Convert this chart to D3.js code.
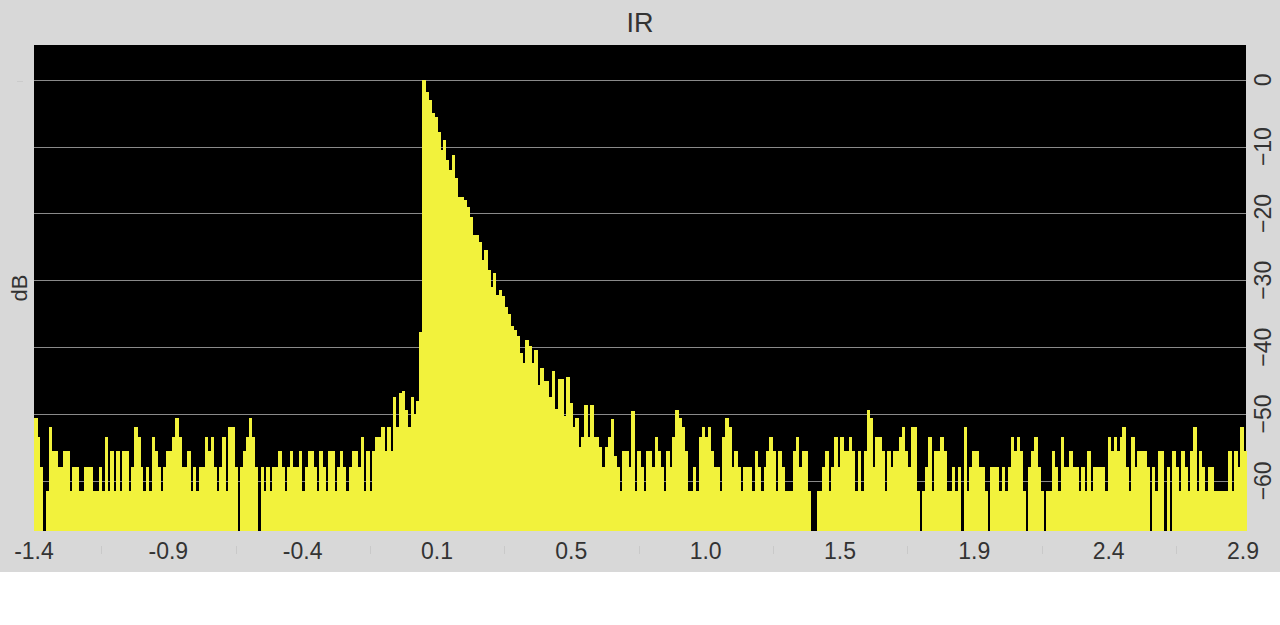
<!DOCTYPE html>
<html>
<head>
<meta charset="utf-8">
<script src="https://cdn.jsdelivr.net/npm/d3@7"></script>
<style>
  html, body { margin: 0; padding: 0; background: #ffffff; }
  svg { display: block; }
  text { font-family: "Liberation Sans", Arial, Helvetica, sans-serif; }
</style>
</head>
<body>
<svg id="chart" width="1280" height="625"></svg>
<script>
// ---- data (dB per time bin) ----
const preRoll = [
  -50.6,-53.5,-58,-67.5,-61.5,-51.9,-55.5,-55.5,-58,-58,
  -55.5,-55.5,-61.5,-58,-58,-61.5,-61.5,-58,-58,-58,
  -61.5,-61.5,-58,-61.5,-53.5,-61.5,-55.5,-61.5,-55.5,-61.5,
  -55.5,-55.5,-61.5,-58,-51.9,-53.5,-58,-61.5,-58,-61.5,
  -53.5,-55.5,-58,-61.5,-58,-55.5,
  -55.5,-53.5,-50.6,-53.5,-58,-58,-55.5,-61.5,-58,-61.5,
  -58,-58,-53.5,-55.5,-53.5,-58,-61.5,-58,-53.5,-61.5,
  -51.9,-51.9,-58,-67.5,-58,-55.5,-53.5,-50.6,-53.5,-58,
  -67.5,-58,-61.5,-58,-61.5,-58,-58,-55.5,-58,-61.5,
  -58,-55.5,-58,-58,-55.5,-61.5,-58,-55.5,-55.5,-58,
  -61.5,-55.5,-58,-61.5,-55.5,-55.5
];
const onset = [
  -61.5,-58,-55.5,-58,-61.5,-58,-55.5,-55.5,-58,-53.5,
  -61.5,-55.5,-61.5,-55.5,-53.5,-53.5,-51.9,-55.5,-51.9,-55.5,
  -47.5,-51.9,-46.8,-46.5,-49.4,-51.9,-47.5,-50,-48,-37.8,
  0,-1.9,-3.1,-5,-5.6,-7.8,-10.5,-9,-12,-13.5,
  -11.3,-14.7,-17.5,-17.5,-18,-19,-20.5,-23.2,-23.2,-24.3,
  -27,-25.5,-28.4,-31,-28.9,-32.2
];
const decay = [
  -31.4,-32.4,-34,-35.1,-36.9,-37.5,-38.4,-40.8,-42.3,-38.9,
  -39.9,-42.3,-40.4,-45.6,-43.1,-45.1,-45.1,-47.4,-43.6,-49.3,
  -44.8,-44.8,-50.3,-44.5,-48.3,-51.9,-50.6,-55,-53.4,-48.6,
  -53.4,-48.6,-53.4,-53.4,-55,-58,-55,-53.4,-50.8,-56.3,
  -58,-61.5,-55.5,-55.5,-58,-49.6,-61.5,-55.5,-58,-61.5,
  -55.5,-55.5,-58,-53.5,-55.5,-58,-61.5
];
const tailA = [
  -55.5,-58,-53.5,-49.4,-50.6,-51.9,-55.5,-61.5,-61.5,-58,
  -61.5,-53.5,-51.9,-53.5,-51.9,-55.5,-58,-58,-61.5,-53.5,
  -50.6,-51.9,-58,-55.5,-58,-61.5,-58,-58,-58,-61.5,
  -55.5,-58,-61.5,-58,-55.5,-53.5,-55.5,-61.5,-55.5,-58,
  -61.5,-61.5,-61.5,-55.5,-53.5,-58,-55.5,-55.5,-61.5,-67.5,
  -67.5,-61.5,-61.5,-58,-55.5,-61.5,
  -58,-53.5,-58,-53.5,-55.5,-55.5,-53.5,-55.5,-61.5,-55.5,
  -61.5,-55.5,-49.4,-50.6,-58,-53.5,-53.5,-55.5,-61.5,-55.5,
  -58,-55.5,-55.5,-53.5,-51.9,-55.5,-58,-51.9,-51.9,-61.5,
  -67.5,-61.5,-58,-53.5,-61.5,-55.5,-55.5,-53.5,-55.5,-61.5,
  -61.5,-58,-61.5,-58,-67.5,-51.9,-61.5,-58,-55.5,-55.5,
  -58,-58,-61.5,-67.5,-58,-58
];
const tailB = [
  -58,-61.5,-58,-61.5,-58,-53.5,-55.5,-53.5,-55.5,-61.5,
  -67.5,-58,-55.5,-53.5,-58,-61.5,-67.5,-61.5,-61.5,-55.5,
  -58,-61.5,-53.5,-58,-58,-55.5,-58,-58,-61.5,-58,
  -61.5,-55.5,-61.5,-58,-58,-58,-58,-61.5,-53.5,-55.5,
  -53.5,-55.5,-53.5,-51.9,-58,-61.5,-53.5,-58,-55.5,-55.5,
  -55.5,-58,-67.5,-58,-61.5,-55.5,
  -55.5,-67.5,-58,-67.5,-55.5,-58,-61.5,-55.5,-58,-61.5,
  -55.5,-51.9,-61.5,-55.5,-58,-61.5,-58,-58,-61.5,-61.5,
  -61.5,-61.5,-61.5,-55.5,-61.5,-55.5,-58,-51.9,-55.5
];
const timeTickLabels = ["-1.4","-0.9","-0.4","0.1","0.5","1.0","1.5","1.9","2.4","2.9"];
const dbTicks = [0,-10,-20,-30,-40,-50,-60];
const dbDomain = [-67.5, 5.2];

const irDb = preRoll.concat(onset, decay, tailA, tailB);

// ---- layout ----
const W = 1280, H = 625;
const plot = {left: 34, right: 1246, top: 45, bottom: 531};
const svg = d3.select("#chart");

svg.append("rect").attr("x",0).attr("y",0).attr("width",W).attr("height",572).attr("fill","#d8d8d8");

const x = d3.scaleLinear().domain([0, irDb.length]).range([plot.left, plot.right]);
const y = d3.scaleLinear().domain(dbDomain).range([plot.bottom, plot.top]);
const xt = d3.scalePoint().domain(timeTickLabels).range([34, 1243]);

svg.append("rect")
  .attr("x", plot.left).attr("y", plot.top)
  .attr("width", plot.right - plot.left).attr("height", plot.bottom - plot.top)
  .attr("fill", "#000");

// grid lines
svg.append("g").selectAll("line").data(dbTicks).join("line")
  .attr("x1", plot.left).attr("x2", plot.right)
  .attr("y1", d => Math.round(y(d)) + 0.5).attr("y2", d => Math.round(y(d)) + 0.5)
  .attr("stroke", "#8a8a8a").attr("stroke-width", 1);

// bars
svg.append("g").attr("shape-rendering","crispEdges").selectAll("rect").data(irDb).join("rect")
  .attr("x", (d,i) => x(i))
  .attr("width", (d,i) => x(i+1) - x(i) + 0.6)
  .attr("y", d => y(d))
  .attr("height", d => Math.max(0, y(dbDomain[0]) - y(d)))
  .attr("fill", "#f2f23c");

// title
svg.append("text").attr("x", 640).attr("y", 32).attr("text-anchor","middle")
  .attr("font-size", 27).attr("fill", "#333").text("IR");

// y label
svg.append("text").attr("transform", "translate(27,288) rotate(-90)")
  .attr("text-anchor","middle").attr("font-size", 22).attr("fill", "#333").text("dB");
svg.append("line").attr("x1",17).attr("x2",23).attr("y1",81.5).attr("y2",81.5)
  .attr("stroke","#cbcbcb").attr("stroke-width",1);

// right axis labels (rotated)
svg.append("g").selectAll("text").data(dbTicks).join("text")
  .attr("transform", d => `translate(1271,${y(d)}) rotate(-90)`)
  .attr("text-anchor","middle")
  .attr("font-size", 23).attr("fill", "#333")
  .text(d => d3.format("d")(d));

// x axis labels
svg.append("g").selectAll("text").data(timeTickLabels).join("text")
  .attr("x", d => xt(d)).attr("y", 559)
  .attr("text-anchor","middle").attr("font-size", 23).attr("fill", "#333")
  .text(d => d);

// minor ticks between labels (faint)
const mids = d3.pairs(timeTickLabels).map(([a,b]) => (xt(a) + xt(b)) / 2);
svg.append("g").selectAll("line").data(mids).join("line")
  .attr("x1", d => Math.round(d) + 0.5).attr("x2", d => Math.round(d) + 0.5)
  .attr("y1", 546).attr("y2", 554)
  .attr("stroke", "#c9c9c9").attr("stroke-width", 1);
</script>
</body>
</html>
